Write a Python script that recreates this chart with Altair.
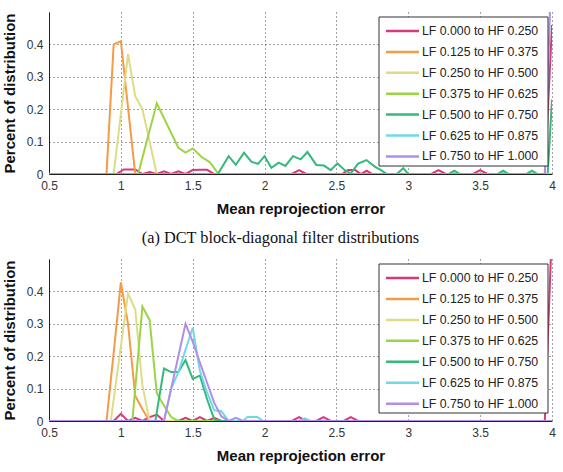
import altair as alt
import pandas as pd

SERIES = [
    "LF 0.000 to HF 0.250",
    "LF 0.125 to HF 0.375",
    "LF 0.250 to HF 0.500",
    "LF 0.375 to HF 0.625",
    "LF 0.500 to HF 0.750",
    "LF 0.625 to HF 0.875",
    "LF 0.750 to HF 1.000",
]
COLORS = ["#d8397a", "#f59b45", "#dedc86", "#9dd444", "#35b97c", "#6fd9e6", "#b18ee9"]
X_TICKS = [0.5, 1, 1.5, 2, 2.5, 3, 3.5, 4]
Y_TICKS = [0, 0.1, 0.2, 0.3, 0.4]
X_TITLE = "Mean reprojection error"
Y_TITLE = "Percent of distribution"
CAPTION_A = "(a) DCT block-diagonal filter distributions"

# ---- panel (a) ----
a_lf000_x = [0.5, 0.97, 1.02, 1.1, 1.15, 1.2, 1.25, 1.3, 1.35, 1.4, 1.45, 1.5, 1.55, 1.6, 1.65,
             2.19, 2.24, 2.29, 2.54, 2.58, 2.63, 2.67, 2.71, 2.75, 3.16, 3.21, 3.26, 3.45, 3.5, 3.55, 3.95, 4.0]
a_lf000_y = [0, 0, 0.014, 0.014, 0, 0.006, 0, 0.008, 0, 0.008, 0, 0.012, 0.013, 0.013, 0,
             0, 0.012, 0, 0, 0.012, 0.012, 0, 0.01, 0, 0, 0.012, 0, 0, 0.012, 0, 0, 0.46]
a_lf125_x = [0.5, 0.9, 0.95, 1.0, 1.1, 4.0]
a_lf125_y = [0, 0, 0.40, 0.41, 0, 0]
a_lf250_x = [0.5, 0.95, 1.05, 1.1, 1.15, 1.25, 4.0]
a_lf250_y = [0, 0, 0.37, 0.24, 0.20, 0, 0]
a_lf375_x = [0.5, 1.12, 1.25, 1.4, 1.45, 1.5, 1.56, 1.62, 1.68, 4.0]
a_lf375_y = [0, 0, 0.218, 0.081, 0.066, 0.079, 0.053, 0.036, 0, 0]
a_lf500_x = [0.5, 1.675, 1.75, 1.8, 1.857, 1.908, 1.954, 2.0, 2.047, 2.098, 2.145, 2.198, 2.251,
             2.298, 2.36, 2.414, 2.46, 2.507, 2.558, 2.6, 2.651, 2.709, 2.767, 2.81, 2.85, 2.92,
             2.965, 3.0, 3.28, 3.32, 3.36, 3.62, 3.66, 3.7, 3.82, 3.86, 3.9, 3.97, 4.0]
a_lf500_y = [0, 0, 0.055, 0.028, 0.066, 0.038, 0.031, 0.055, 0.019, 0.035, 0.025, 0.055, 0.045,
             0.068, 0.028, 0.026, 0.012, 0.033, 0.012, 0.002, 0.032, 0.043, 0.023, 0.012, 0, 0,
             0.018, 0, 0, 0.01, 0, 0, 0.01, 0, 0, 0.01, 0, 0, 0.23]
a_lf625_x = [0.5, 4.0]
a_lf625_y = [0, 0]
a_lf750_x = [0.5, 3.95, 4.0]
a_lf750_y = [0, 0, 0.7]

# ---- panel (b) ----
b_lf000_x = [0.5, 0.95, 1.0, 1.05, 1.1, 1.15, 1.2, 1.25, 1.3, 1.4, 1.45, 1.5, 1.55, 1.6, 1.65, 1.7,
             2.19, 2.24, 2.29, 2.36, 2.41, 2.46, 2.55, 2.6, 2.65, 3.95, 4.0]
b_lf000_y = [0, 0, 0.022, 0, 0.01, 0, 0.012, 0.02, 0, 0, 0.01, 0, 0.012, 0, 0.01, 0,
             0, 0.012, 0, 0, 0.012, 0, 0, 0.012, 0, 0, 0.6]
b_lf125_x = [0.5, 0.9, 0.95, 1.0, 1.05, 1.1, 1.15, 1.2, 4.0]
b_lf125_y = [0, 0, 0.21, 0.428, 0.30, 0.077, 0.036, 0, 0]
b_lf250_x = [0.5, 0.93, 1.05, 1.1, 1.15, 1.2, 4.0]
b_lf250_y = [0, 0, 0.394, 0.344, 0.11, 0, 0]
b_lf375_x = [0.5, 1.08, 1.15, 1.2, 1.25, 1.3, 1.35, 1.4, 4.0]
b_lf375_y = [0, 0, 0.353, 0.312, 0.086, 0.048, 0.012, 0, 0]
b_lf500_x = [0.5, 1.24, 1.3, 1.35, 1.4, 1.45, 1.5, 1.55, 1.6, 1.65, 1.7, 4.0]
b_lf500_y = [0, 0, 0.162, 0.151, 0.151, 0.188, 0.13, 0.14, 0.067, 0.005, 0, 0]
b_lf625_x = [0.5, 1.3, 1.35, 1.4, 1.45, 1.5, 1.55, 1.6, 1.65, 1.7, 1.75, 1.85, 1.88, 1.95, 1.99,
             2.24, 2.28, 2.32, 4.0]
b_lf625_y = [0, 0, 0.1, 0.15, 0.22, 0.288, 0.155, 0.088, 0.033, 0.03, 0, 0, 0.012, 0.012, 0,
             0, 0.008, 0, 0]
b_lf750_x = [0.5, 1.3, 1.35, 1.4, 1.45, 1.5, 1.55, 1.6, 1.65, 1.7, 1.75, 1.8, 1.85, 4.0]
b_lf750_y = [0, 0, 0.1, 0.2, 0.30, 0.245, 0.18, 0.118, 0.056, 0.014, 0, 0.01, 0, 0]

PANEL_A = [(a_lf000_x, a_lf000_y), (a_lf125_x, a_lf125_y), (a_lf250_x, a_lf250_y),
           (a_lf375_x, a_lf375_y), (a_lf500_x, a_lf500_y), (a_lf625_x, a_lf625_y),
           (a_lf750_x, a_lf750_y)]
PANEL_B = [(b_lf000_x, b_lf000_y), (b_lf125_x, b_lf125_y), (b_lf250_x, b_lf250_y),
           (b_lf375_x, b_lf375_y), (b_lf500_x, b_lf500_y), (b_lf625_x, b_lf625_y),
           (b_lf750_x, b_lf750_y)]


def build_df(panel):
    rows = []
    for k, (name, (xs, ys)) in enumerate(zip(SERIES, panel)):
        for j, (x, y) in enumerate(zip(xs, ys)):
            rows.append({"series": name, "k": k, "x": x, "y": y, "order": j})
    return pd.DataFrame(rows)


SANS = "Liberation Sans"
COLOR_SCALE = alt.Scale(domain=SERIES, range=COLORS)
LEGEND_DF = pd.DataFrame({"series": SERIES, "k": list(range(len(SERIES)))})


def panel_chart(df, row0, pitch, title=None):
    lines = alt.Chart(df).mark_line(strokeWidth=2, clip=True).encode(
        x=alt.X("x:Q",
                scale=alt.Scale(domain=[0.5, 4], nice=False, zero=False),
                axis=alt.Axis(values=X_TICKS, format="~g", title=X_TITLE, labelFlush=False)),
        y=alt.Y("y:Q",
                scale=alt.Scale(domain=[0, 0.5], nice=False),
                axis=alt.Axis(values=Y_TICKS, format="~g", title=Y_TITLE)),
        color=alt.Color("series:N", scale=COLOR_SCALE, legend=None),
        order="order:Q",
    )
    box = alt.Chart(pd.DataFrame({"b": [0]})).mark_rect(
        fill="white", stroke="#333", strokeWidth=1
    ).encode(x=alt.value(330), x2=alt.value(499), y=alt.value(5), y2=alt.value(154))
    leg = alt.Chart(LEGEND_DF).transform_calculate(
        ly=f"{row0} + datum.k * {pitch}"
    )
    syms = leg.mark_rule(strokeWidth=2.5).encode(
        x=alt.value(337), x2=alt.value(370),
        y=alt.Y("ly:Q", scale=None, axis=None),
        color=alt.Color("series:N", scale=COLOR_SCALE, legend=None),
    )
    labels = leg.mark_text(
        align="left", baseline="middle", font=SANS, fontSize=12.3, color="#222"
    ).encode(
        x=alt.value(373),
        y=alt.Y("ly:Q", scale=None, axis=None),
        text="series:N",
    )
    chart = alt.layer(lines, box, syms, labels).resolve_scale(y="independent").properties(
        width=503, height=162)
    if title is not None:
        chart = chart.properties(title=title)
    return chart


top = panel_chart(build_df(PANEL_A), 19, 20.9, alt.TitleParams(
    CAPTION_A, orient="bottom", font="Liberation Serif", fontSize=16.3,
    fontWeight="normal", color="#111", dx=-20, offset=14))
bottom = panel_chart(build_df(PANEL_B), 19, 20.95)

chart = alt.vconcat(top, bottom, spacing=85, bounds="flush").properties(
    padding={"left": 2, "top": 12, "right": 5, "bottom": 5}
).configure_view(stroke=None).configure_axis(
    domainColor="#222", domainWidth=1, ticks=False, labelPadding=6,
    labelFont=SANS, labelFontSize=12, labelColor="#333",
    titleFont=SANS, titleFontSize=15, titleFontWeight="bold", titleColor="#111",
    grid=True, gridDash=[1, 3], gridColor="#444", gridWidth=1,
).configure_axisY(titlePadding=9).configure_axisX(titlePadding=10)

chart.save("out.html", embed_options={"renderer": "svg", "actions": False})
